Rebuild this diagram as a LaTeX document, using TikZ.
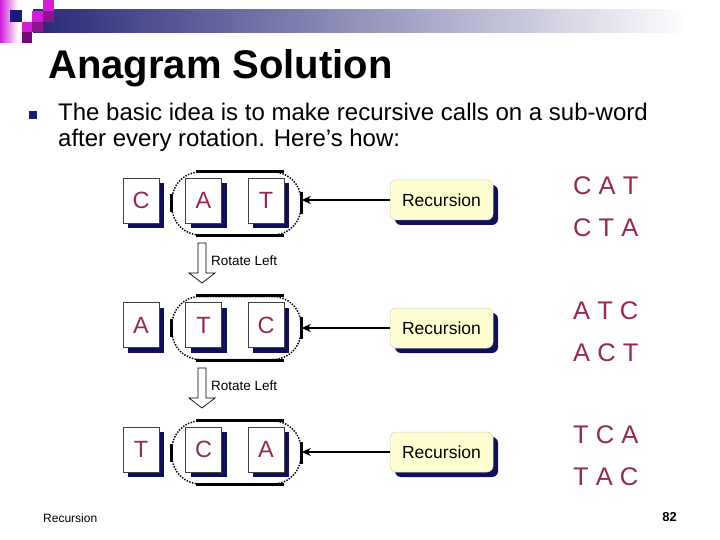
\documentclass[tikz,border=0pt]{standalone}
\usepackage{fontspec}
\setmainfont{Liberation Sans}
\usetikzlibrary{shadows,arrows.meta}
\definecolor{barnavy}{RGB}{40,40,120}
\definecolor{navy}{RGB}{26,26,120}
\definecolor{maroon}{RGB}{150,40,85}
\definecolor{recfill}{RGB}{255,255,210}
\definecolor{shadownavy}{RGB}{15,15,90}
\definecolor{mag}{RGB}{210,30,220}
\definecolor{purp}{RGB}{140,20,140}
\definecolor{dpurp}{RGB}{115,10,115}
\begin{document}
\begin{tikzpicture}[x=1pt,y=-1pt,
  letterbox/.style={draw=black!75, line width=0.6pt, fill=white,
    minimum width=36pt, minimum height=45pt, inner sep=0pt, text=maroon,
    font=\fontsize{23.5}{28}\selectfont,
    drop shadow={shadow xshift=5pt, shadow yshift=-5pt, fill=shadownavy, opacity=1}},
  recbox/.style={draw=black!20, line width=0.5pt, fill=recfill, rounded corners=6pt,
    minimum width=103pt, minimum height=40pt, inner sep=0pt,
    font=\fontsize{17.5}{21}\selectfont,
    drop shadow={shadow xshift=5pt, shadow yshift=-5pt, fill=shadownavy, opacity=1}},
  grp/.style={draw=black, dash pattern=on 1.4pt off 1.4pt, line width=1.5pt,
    rounded corners=28pt, minimum width=129pt, minimum height=63pt, inner sep=0pt},
  grpbar/.style={line width=2.8pt},
  callarrow/.style={line width=2.2pt, -{Stealth[length=9pt,width=8pt]}},
  perm/.style={text=maroon, font=\fontsize{25.5}{30}\selectfont, anchor=base west, inner sep=0pt},
  rotarrow/.style={draw=black, line width=0.7pt, fill=white},
  rotlabel/.style={font=\fontsize{13.5}{16}\selectfont, anchor=west, inner sep=0pt},
]
\useasboundingbox (0,0) rectangle (720,540);
% header bar
\shade[left color=barnavy, right color=white] (33,10) rectangle (690,33);
% decorative squares
\shade[left color=mag, right color=white] (0,0) rectangle (18,43);
\fill[navy] (10,10) rectangle (22,22);
\fill[mag] (43,0) rectangle (54,11);
\fill[mag] (32,11) rectangle (43,22);
\fill[purp] (43,11) rectangle (54,22);
\fill[mag] (22,22) rectangle (32,32);
\fill[purp] (32,22) rectangle (43,32);
\fill[dpurp] (22,32) rectangle (32,43);
% title
\node[anchor=base west, inner sep=0pt, font=\fontsize{40}{48}\selectfont\bfseries] (title) at (48,79) {Anagram Solution};
% bullet
\fill[navy] (29,111) rectangle (37,119);
\node[anchor=base west, inner sep=0pt, font=\fontsize{24}{28}\selectfont] (l1) at (58,121) {The basic idea is to make recursive calls on a sub-word};
\node[anchor=base west, inner sep=0pt, font=\fontsize{24}{28}\selectfont] (l2) at (58,147) {after every rotation. Here’s how:};
% rows
\foreach \r/\y/\ry/\a/\b/\c/\pa/\pb in {1/200.5/200/C/A/T/{C A T}/{C T A},
                                          2/325/328/A/T/C/{A T C}/{A C T},
                                          3/449.5/452/T/C/A/{T C A}/{T A C}}{
  \node[grp] (g\r) at (236.5,\y+3) {};
  \draw[grpbar] ([xshift=25pt]g\r.north west) -- ([xshift=-18pt]g\r.north east);
  \draw[grpbar] ([xshift=25pt]g\r.south west) -- ([xshift=-18pt]g\r.south east);
  \draw[grpbar] ([yshift=9pt]g\r.west) -- ([yshift=-9pt]g\r.west);
  \draw[grpbar] ([yshift=11pt]g\r.east) -- ([yshift=-11pt]g\r.east);
  \node[letterbox] (b\r1) at (141,\y) {\a};
  \node[letterbox] (b\r2) at (203.5,\y) {\b};
  \node[letterbox] (b\r3) at (266,\y) {\c};
  \node[recbox] (r\r) at (441.5,\ry) {Recursion};
  \draw[callarrow] (r\r.west) -- (r\r.west -| g\r.east);
  \node[perm] (pa\r) at (573,\y-6) {\pa};
  \node[perm] (pb\r) at (573,\y+36) {\pb};
}
% rotate arrows
\foreach \k/\t in {1/243, 2/368}{
  \draw[rotarrow] (198,\t) -- (206,\t) -- (206,\t+30) -- (215,\t+30) -- (202,\t+40)
    -- (189,\t+30) -- (198,\t+30) -- cycle;
  \node[rotlabel] (rot\k) at (211,\t+17.5) {Rotate Left};
}
% footer
\node[anchor=base west, inner sep=0pt, font=\fontsize{12}{14}\selectfont] (foot) at (43,522) {Recursion};
\node[anchor=base east, inner sep=0pt, font=\fontsize{13}{15}\selectfont\bfseries] (page) at (677,521) {82};
\end{tikzpicture}
\end{document}
